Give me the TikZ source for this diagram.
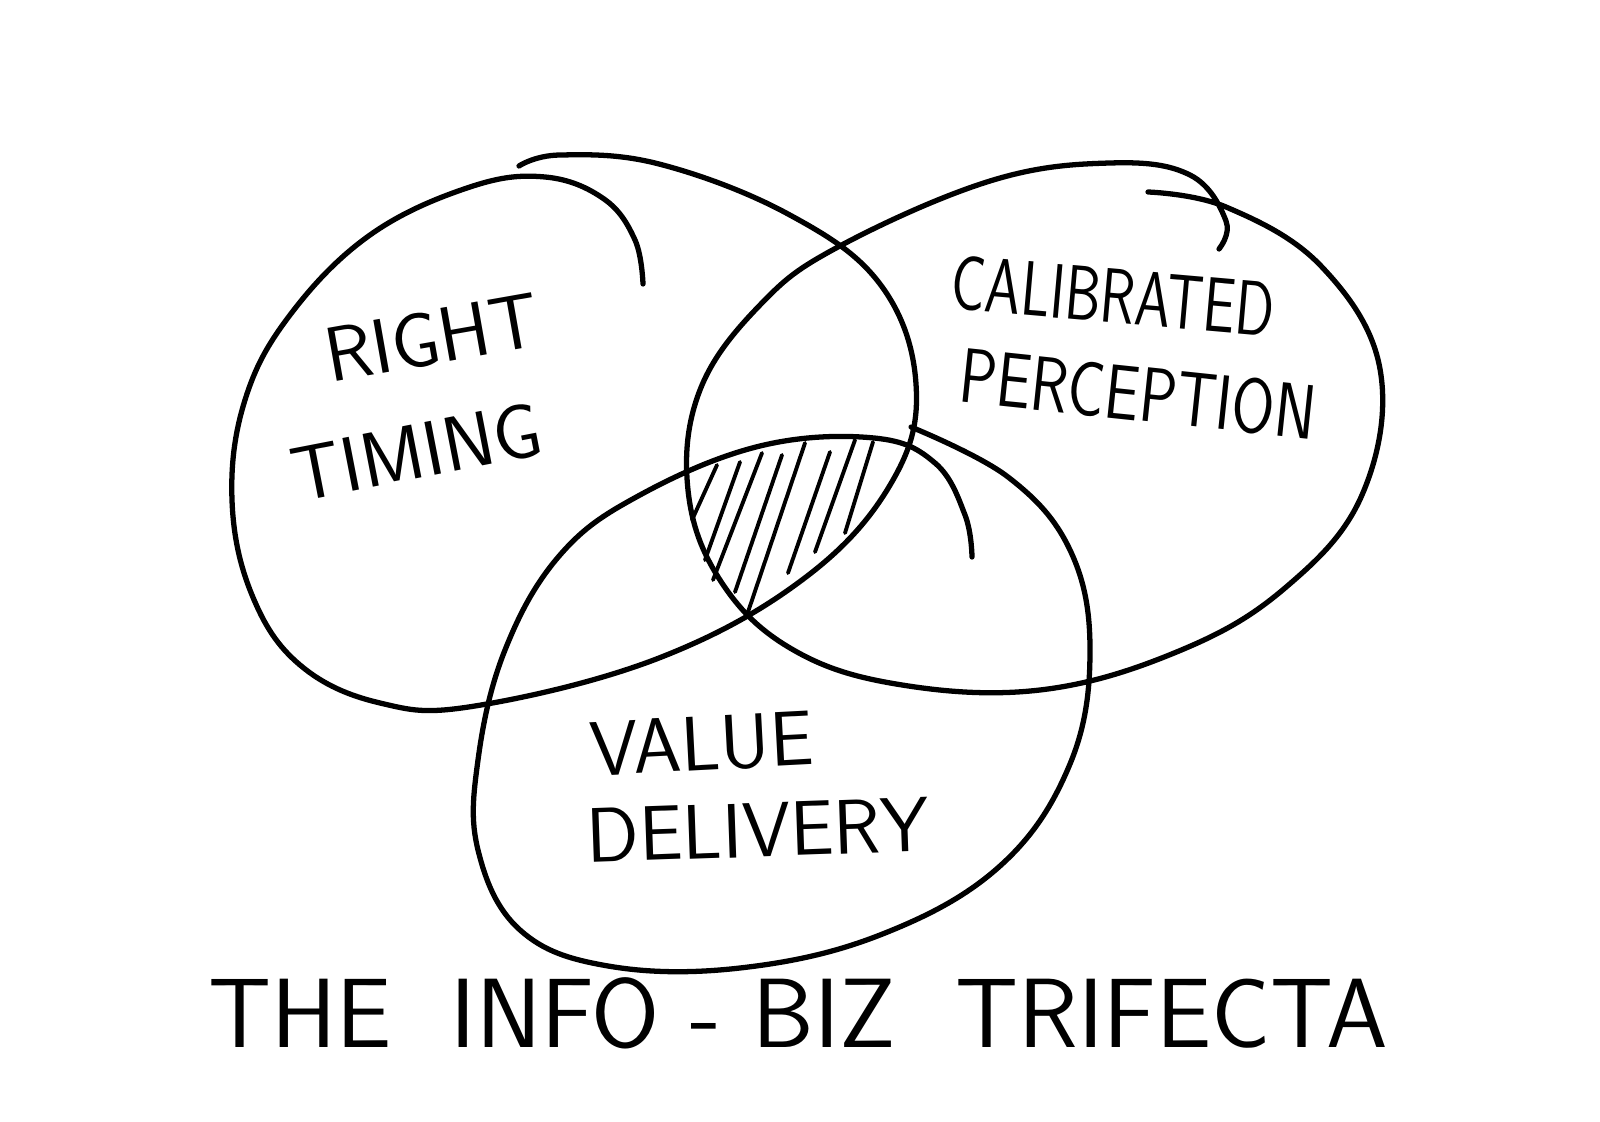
\documentclass[tikz,border=0pt]{standalone}

\begin{document}
\begin{tikzpicture}[x={(0.01cm,0cm)}, y={(0cm,-0.01cm)},
    stroke/.style={line width=1.5pt, line cap=round, line join=round},
    hatch/.style={line width=1.1pt, line cap=round},
    lbl/.style={font=\sffamily\fontsize{22}{26}\selectfont, inner sep=0pt}]

    \useasboundingbox[fill=white] (0,0) rectangle (1600,1122);

    % Right timing (left loop)
    \draw[stroke] plot[smooth, tension=0.65] coordinates {(519,166) (560,155) (659,164) (788,214) (880,284) (916,384) (893,480) (806,577) (659,658) (475,706) (380,703) (300,665) (252,595) (232,500) (245,400) (290,315) (370,235) (470,187) (545,177) (604,199) (635,240) (643,284)};

    % Calibrated perception (right loop)
    \draw[stroke] plot[smooth, tension=0.65] coordinates {(1148,192) (1226,207) (1321,266) (1380,369) (1362,495) (1285,588) (1179,651) (1040,690) (896,684) (790,648) (720,580) (688,490) (700,390) (760,305) (838,247) (990,181) (1110,163) (1190,175) (1226,221) (1219,249)};

    % Value delivery (bottom loop)
    \draw[stroke] plot[smooth, tension=0.65] coordinates {(911,427) (1008,477) (1070,550) (1090,650) (1070,764) (1000,866) (880,935) (740,968) (608,966) (520,930) (478,850) (478,760) (505,650) (560,555) (640,495) (760,446) (874,438) (935,463) (965,515) (972,557)};

    % Hatching where all three meet
    \draw[hatch] (692,520) -- (717,465);
    \draw[hatch] (705,560) -- (740,462);
    \draw[hatch] (713,580) -- (762,453);
    \draw[hatch] (735,592) -- (782,455);
    \draw[hatch] (748,612) -- (805,443);
    \draw[hatch] (788,573) -- (830,452);
    \draw[hatch] (815,552) -- (855,440);
    \draw[hatch] (845,533) -- (873,442);

    % Labels
    \node[lbl, rotate=10] (right) at (432,338) {RIGHT};
    \node[lbl, rotate=11] (timing) at (417,452) {TIMING};
    \node[lbl, rotate=-5, xscale=0.74] (calibrated) at (1113,296) {CALIBRATED};
    \node[lbl, rotate=-6, xscale=0.8] (perception) at (1138,394) {PERCEPTION};
    \node[lbl, rotate=3] (value) at (702,744) {VALUE};
    \node[lbl, rotate=2] (delivery) at (758,830) {DELIVERY};

    \node[lbl, font=\sffamily\fontsize{28}{33}\selectfont] (title) at (798,1013)
        {THE\hspace{0.6em}INFO - BIZ\hspace{0.6em}TRIFECTA};
\end{tikzpicture}
\end{document}
